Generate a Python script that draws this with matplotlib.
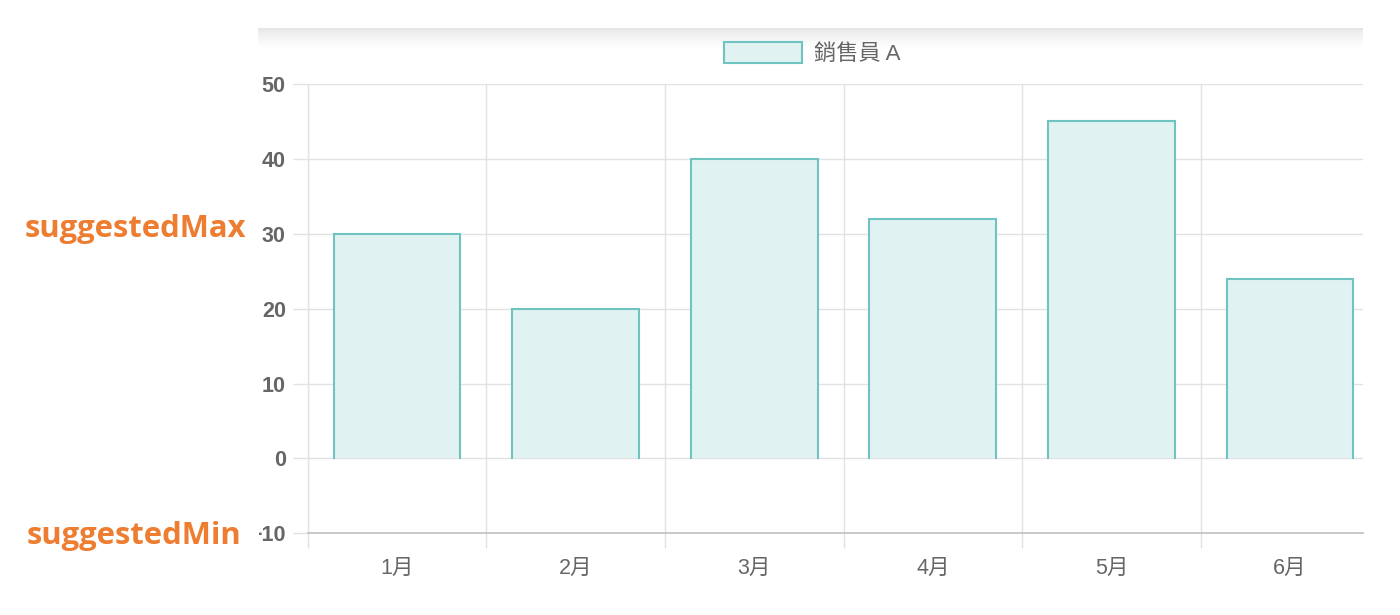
import matplotlib
matplotlib.use("Agg")
import matplotlib.pyplot as plt
import numpy as np
from matplotlib.patches import Rectangle
from matplotlib.colors import LinearSegmentedColormap

categories = ["1月", "2月", "3月", "4月", "5月", "6月"]
values = [30, 20, 40, 32, 45, 24]
series_name = "銷售員 A"
y_ticks = [-10, 0, 10, 20, 30, 40, 50]
side_labels = ["suggestedMax", "suggestedMin"]

W, H, DPI = 1400, 615, 100
fig = plt.figure(figsize=(W / DPI, H / DPI), dpi=DPI)
fig.patch.set_facecolor("white")

def fx(px):
    return px / W

def fy(py):
    return 1 - py / H

ax_l, ax_r, ax_t, ax_b = 307.7, 1363, 84, 533.3
ax = fig.add_axes([fx(ax_l), fy(ax_b), (ax_r - ax_l) / W, (ax_b - ax_t) / H])

cat_w = 178.6
x = np.arange(len(categories))
ax.set_xlim(-0.5, -0.5 + (ax_r - ax_l) / cat_w)
ax.set_ylim(-10, 50)

fill = "#E1F2F2"
edge = "#6FC4C2"
bw = 0.71
ax.bar(x, values, width=bw, color=fill, edgecolor="none", zorder=2)
for xi, v in zip(x, values):
    ax.plot([xi - bw / 2, xi - bw / 2, xi + bw / 2, xi + bw / 2], [0, v, v, 0],
            color=edge, lw=1.5, zorder=3, solid_joinstyle="miter")

grid_c = "#E2E2E2"
for s in ["top", "right"]:
    ax.spines[s].set_visible(False)
ax.spines["left"].set_color(grid_c)
ax.spines["left"].set_linewidth(1.0)
ax.spines["bottom"].set_color("#C8C8C8")
ax.spines["bottom"].set_linewidth(1.4)
ax.spines["bottom"].set_zorder(4)

ax.set_yticks(y_ticks)
ax.yaxis.grid(True, color=grid_c, lw=1.0, zorder=1)
ax.set_axisbelow(True)
ax.tick_params(axis="y", length=10.8, width=1.0, color=grid_c, pad=5,
               labelsize=15.5, labelcolor="#666666")
for t in ax.get_yticklabels():
    t.set_fontweight("bold")
    t.set_family(["Liberation Sans", "DejaVu Sans"])

ax.set_xticks(x)
ax.set_xticklabels(categories)
ax.set_xticks(np.arange(-0.5, 5.0, 1.0), minor=True)
ax.xaxis.grid(True, which="minor", color=grid_c, lw=1.0, zorder=1)
ax.tick_params(axis="x", which="major", length=0, pad=18, labelsize=15.5,
               labelcolor="#666666")
ax.tick_params(axis="x", which="minor", length=10.8, width=1.0, color=grid_c)
for t in ax.get_xticklabels():
    t.set_family(["Liberation Sans", "Noto Sans CJK TC"])

# legend
fs = 16
fpx = fs * DPI / 72
handle = Rectangle((0, 0), 1, 1, facecolor=fill, edgecolor=edge, linewidth=1.5)
leg = fig.legend([handle], [series_name], loc="center",
                 bbox_to_anchor=(fx(812.5), fy(53.5)), frameon=False,
                 handlelength=78 / fpx, handleheight=23 / fpx,
                 handletextpad=12 / fpx, borderpad=0,
                 prop={"family": ["Liberation Sans", "Noto Sans CJK TC"], "size": fs})
for t in leg.get_texts():
    t.set_color("#666666")

# top shadow band
gax = fig.add_axes([fx(258), fy(48), (1363 - 258) / W, 20 / H])
grad = np.linspace(0, 1, 60).reshape(-1, 1) ** 0.6
cm = LinearSegmentedColormap.from_list("g", ["#E2E2E2", "#FFFFFF"])
gax.imshow(grad, aspect="auto", cmap=cm, extent=[0, 1, 0, 1], origin="upper",
           interpolation="bicubic", vmin=0, vmax=1)
gax.set_axis_off()

# white mask to clip "-10" minus sign at panel edge
fig.add_artist(Rectangle((0, fy(548)), fx(259), (548 - 515) / H,
                         transform=fig.transFigure, facecolor="white",
                         edgecolor="none", zorder=5))

orange = "#ED7D31"
targets = [(25, 247, 229.5), (27, 242, 536)]
fig.canvas.draw()
r = fig.canvas.get_renderer()
for lab, (x0, x1, yc) in zip(side_labels, targets):
    t = fig.text(fx(x0), fy(yc), lab, color=orange, fontsize=20, fontweight="bold",
                 family="Open Sans", ha="left", va="center", zorder=6)
    wpx = t.get_window_extent(r).width
    t.set_fontsize(20 * (x1 - x0) / wpx)

fig.savefig("out.png", dpi=DPI)
